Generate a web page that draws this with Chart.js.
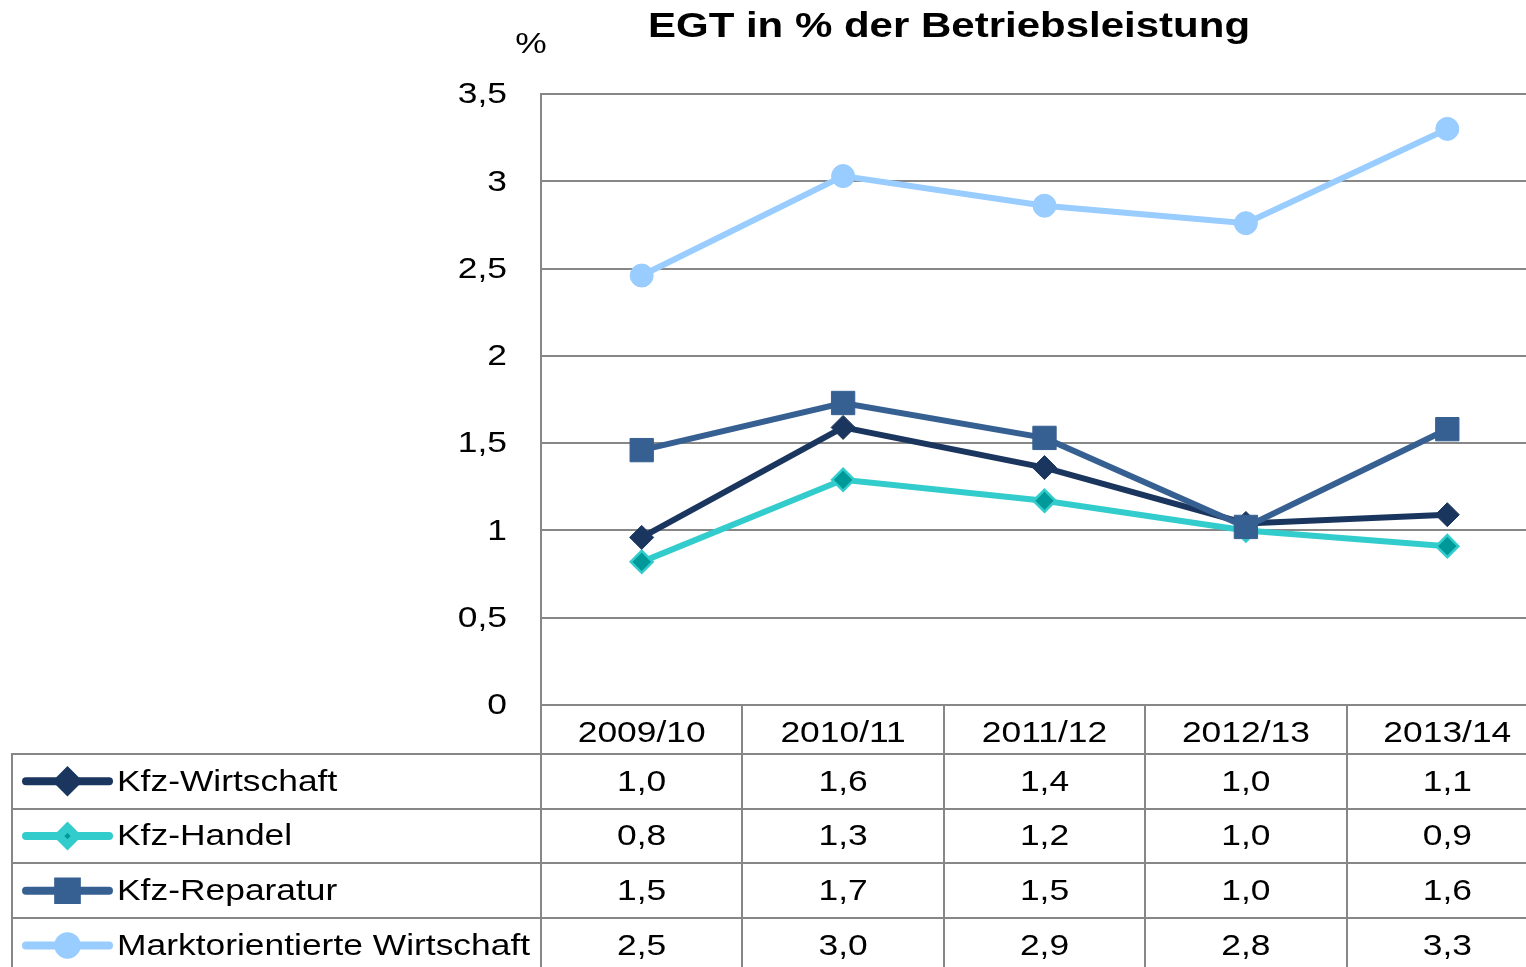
<!DOCTYPE html>
<html lang="de">
<head>
<meta charset="utf-8">
<title>EGT in % der Betriebsleistung</title>
<script src="https://cdn.jsdelivr.net/npm/chart.js@4"></script>
<style>
  html, body { margin: 0; padding: 0; background: #fff; overflow: hidden; }
  #wrap { position: absolute; left: 0; top: 0; width: 1548px; height: 975px; }
</style>
</head>
<body>
<div id="wrap"><canvas id="chart" width="1548" height="975"></canvas></div>
<script>
const categories = ['2009/10', '2010/11', '2011/12', '2012/13', '2013/14'];
const kfzWirtschaft = [0.96, 1.59, 1.36, 1.04, 1.09];
const kfzHandel = [0.82, 1.29, 1.17, 1.00, 0.91];
const kfzReparatur = [1.46, 1.73, 1.53, 1.02, 1.58];
const marktWirtschaft = [2.46, 3.03, 2.86, 2.76, 3.30];
const seriesNames = ['Kfz-Wirtschaft', 'Kfz-Handel', 'Kfz-Reparatur', 'Marktorientierte Wirtschaft'];
const yMin = 0, yMax = 3.5, yStep = 0.5;

const FONT = '"Liberation Sans", Arial, sans-serif';
const GRID = '#878787';
const TEXT_SX = 1.18;   // the source renders its Arial a bit wider

// German decimal comma
function de(v, digits) {
    const s = digits === undefined ? String(v) : v.toFixed(digits);
    return s.replace('.', ',');
}

function wideText(ctx, text, x, y, align, sx) {
    ctx.save();
    ctx.translate(x, y);
    ctx.scale(sx, 1);
    ctx.textAlign = align;
    ctx.fillText(text, 0, 0);
    ctx.restore();
}

const datasets = [
    {
        label: seriesNames[0], data: kfzWirtschaft, order: 1,
        borderColor: '#1b365e', backgroundColor: '#1b365e',
        pointStyle: 'rectRot', pointRadius: 12, pointBorderWidth: 1,
        pointBackgroundColor: '#1b365e', pointBorderColor: '#1b365e'
    },
    {
        label: seriesNames[1], data: kfzHandel, order: 2,
        borderColor: '#33cccc', backgroundColor: '#009999',
        pointStyle: 'rectRot', pointRadius: 11, pointBorderWidth: 2.5,
        pointBackgroundColor: '#009999', pointBorderColor: '#33cccc'
    },
    {
        label: seriesNames[2], data: kfzReparatur, order: 0,
        borderColor: '#376092', backgroundColor: '#376092',
        pointStyle: 'rect', pointRadius: 16.5, pointBorderWidth: 1,
        pointBackgroundColor: '#376092', pointBorderColor: '#376092'
    },
    {
        label: seriesNames[3], data: marktWirtschaft, order: 3,
        borderColor: '#99ccff', backgroundColor: '#99ccff',
        pointStyle: 'circle', pointRadius: 11.5, pointBorderWidth: 1,
        pointBackgroundColor: '#99ccff', pointBorderColor: '#99ccff'
    }
];
datasets.forEach(d => { d.borderWidth = 6; d.tension = 0; d.fill = false; d.clip = false; d.pointHoverRadius = d.pointRadius; });

// title, unit label and y tick labels
const headerPlugin = {
    id: 'header',
    afterDraw(chart) {
        const ctx = chart.ctx;
        const y = chart.scales.y;
        ctx.save();
        ctx.fillStyle = '#000';
        ctx.textBaseline = 'middle';
        ctx.font = 'bold 35px ' + FONT;
        wideText(ctx, 'EGT in % der Betriebsleistung', 949, 27, 'center', 1.2);
        ctx.font = '30px ' + FONT;
        wideText(ctx, '%', 531, 45, 'center', TEXT_SX);
        y.ticks.forEach(t => {
            wideText(ctx, de(t.value), 507, y.getPixelForValue(t.value) + 1, 'right', TEXT_SX);
        });
        ctx.restore();
    }
};

// Excel-style data table with legend keys below the plot
const tablePlugin = {
    id: 'dataTable',
    afterDraw(chart) {
        const { ctx, chartArea, scales: { x } } = chart;
        const colW = x.getPixelForValue(1) - x.getPixelForValue(0);
        const top = chartArea.bottom;
        const headBottom = top + 49;
        const rowH = 54.7;
        const tableLeft = 12;
        const right = chart.width;
        const bottom = chart.height;

        ctx.save();
        ctx.strokeStyle = GRID;
        ctx.lineWidth = 2;
        ctx.beginPath();
        for (let i = 0; i <= categories.length; i++) {
            const bx = Math.round(x.getPixelForValue(Math.min(i, categories.length - 1)) + (i < categories.length ? -colW / 2 : colW / 2));
            ctx.moveTo(bx, top);
            ctx.lineTo(bx, bottom);
        }
        ctx.moveTo(tableLeft, Math.round(headBottom));
        ctx.lineTo(tableLeft, bottom);
        for (let r = 0; r < seriesNames.length; r++) {
            const ly = Math.round(headBottom + r * rowH);
            ctx.moveTo(tableLeft - 1, ly);
            ctx.lineTo(right, ly);
        }
        ctx.stroke();

        ctx.fillStyle = '#000';
        ctx.font = '30px ' + FONT;
        ctx.textBaseline = 'middle';
        categories.forEach((c, i) => {
            wideText(ctx, c, x.getPixelForValue(i), top + 29, 'center', TEXT_SX);
        });

        chart.data.datasets.forEach((ds, r) => {
            const cy = headBottom + r * rowH + rowH / 2;
            ctx.fillStyle = '#000';
            ds.data.forEach((v, i) => {
                wideText(ctx, de(v, 1), x.getPixelForValue(i), cy + 1, 'center', TEXT_SX);
            });
            wideText(ctx, ds.label, 117, cy + 1, 'left', TEXT_SX);

            // legend key
            ctx.save();
            ctx.strokeStyle = ds.borderColor;
            ctx.lineWidth = 8;
            ctx.lineCap = 'round';
            ctx.beginPath();
            ctx.moveTo(26, cy);
            ctx.lineTo(109, cy);
            ctx.stroke();
            ctx.fillStyle = ds.pointBackgroundColor;
            ctx.strokeStyle = ds.pointBorderColor;
            Chart.helpers.drawPoint(ctx, {
                pointStyle: ds.pointStyle,
                radius: ds.pointRadius * 0.8,
                borderWidth: ds.pointBorderWidth,
                rotation: 0
            }, 67.5, cy);
            ctx.restore();
        });
        ctx.restore();
    }
};

new Chart(document.getElementById('chart'), {
    type: 'line',
    data: { labels: categories, datasets: datasets },
    options: {
        responsive: false,
        animation: false,
        devicePixelRatio: 1,
        layout: { autoPadding: false, padding: { top: 94, left: 0, right: 0, bottom: 0 } },
        plugins: {
            legend: { display: false },
            title: { display: false },
            tooltip: { enabled: false }
        },
        scales: {
            x: {
                type: 'category',
                offset: true,
                grid: { display: false },
                border: { display: false },
                ticks: { display: false },
                afterFit: s => { s.height = 270; }
            },
            y: {
                min: yMin,
                max: yMax,
                ticks: { stepSize: yStep, display: false },
                grid: { color: GRID, lineWidth: 2, drawTicks: false },
                border: { color: GRID, width: 2 },
                afterFit: s => { s.width = 541; }
            }
        }
    },
    plugins: [headerPlugin, tablePlugin]
});
</script>
</body>
</html>
